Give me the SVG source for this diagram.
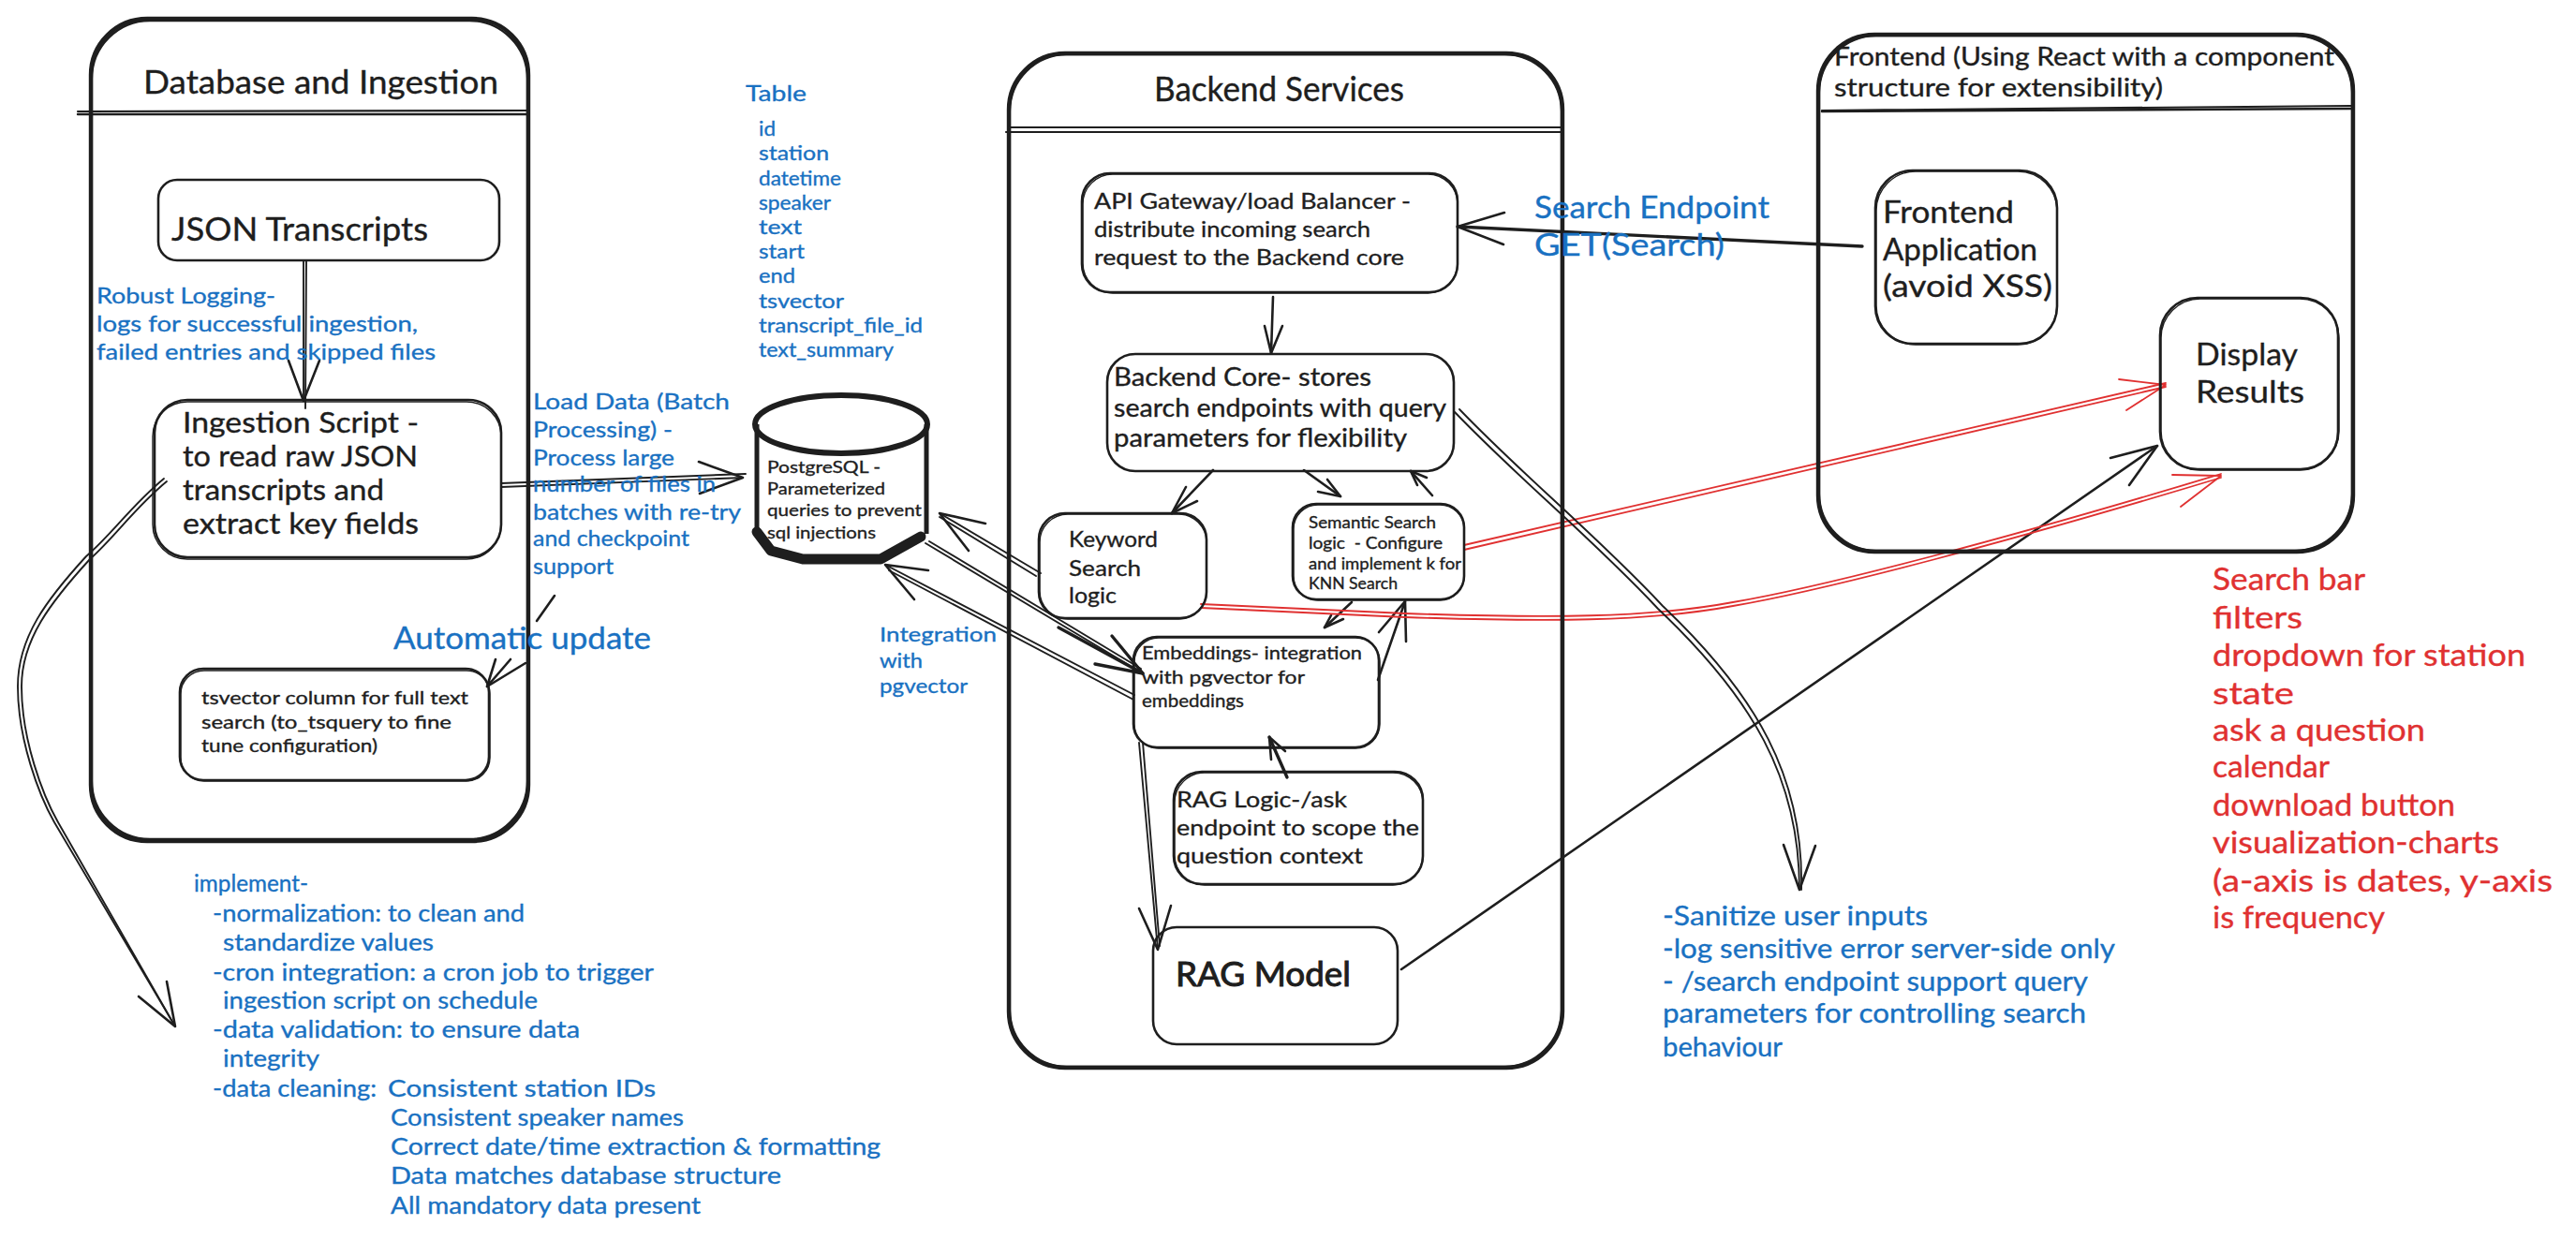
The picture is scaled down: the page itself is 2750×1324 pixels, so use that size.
<svg xmlns="http://www.w3.org/2000/svg" width="2750" height="1324" viewBox="0 0 2750 1324">
<style>
text{font-family:"Lato","Open Sans","Liberation Sans",sans-serif;fill:#1e1e1e;stroke:#1e1e1e;stroke-width:.35}
text.b{fill:#1971c2;stroke:#1971c2}
text.r{fill:#e03131;stroke:#e03131}
.box,.box2,.cont,.cont2,.hd{fill:none;stroke:#1e1e1e;stroke-linecap:round}
.box{stroke-width:2.6}.box2{stroke-width:1.4}.cont{stroke-width:4.4}.cont2{stroke-width:2.4}.hd{stroke-width:2.2}
.c,.c2,.cr,.ct{fill:none;stroke:#1e1e1e;stroke-linecap:round;stroke-linejoin:round}
.c{stroke-width:2.6}.c2{stroke-width:1.9}.ct{stroke-width:3.4}
.cr{stroke:#e03131;stroke-width:1.8}
</style>
<g id="connectors">
<path class="c2" d="M324 278L324 428"/><path class="c2" d="M327 278L326 436"/><path class="c" d="M308 385L324 428L341 385"/>
<path class="c2" d="M535 520L793 510"/><path class="c2" d="M535 516L796 506"/><path class="c" d="M746 493L793 510L747 527"/>
<path class="c" d="M592 636L573 663"/><path class="c" d="M561 708L520 733"/><path class="c" d="M529 704L520 733L545 704"/>
<path class="c2" d="M175 511C140 540 120 570 92 594C50 640 19 680 19 733C19 790 42 850 58 878L187 1096"/><path class="c2" d="M178 514C143 543 123 573 96 597C54 643 23 683 23 733C23 790 46 850 62 878L187 1096"/><path class="c" d="M178 1048L187 1096L148 1064"/>
<path class="c2" d="M1111 612L1003 548"/><path class="c2" d="M1106 615L1003 552"/><path class="c" d="M1052 559L1003 548L1034 588"/>
<path class="c2" d="M988 580L1220 719"/><path class="c2" d="M992 578L1218 714"/><path class="ct" d="M1187 679L1220 719L1169 709"/><path class="ct" d="M1130 670L1220 719"/>
<path class="c2" d="M1211 742L945 603"/><path class="c2" d="M1210 747L949 609"/><path class="c" d="M991 609L945 603L976 640"/>
<path class="ct" d="M1988 263L1556 242"/><path class="c" d="M1606 227L1556 242L1605 261"/>
<path class="c" d="M1359 317L1357 377"/><path class="c" d="M1350 348L1357 377L1369 348"/>
<path class="c" d="M1295 502L1251 548"/><path class="c" d="M1266 520L1251 548L1278 535"/>
<path class="c" d="M1392 502L1431 530"/><path class="c" d="M1417 512L1431 530L1407 525"/>
<path class="c" d="M1529 529L1506 503"/><path class="c" d="M1523 510L1506 503L1513 518"/>
<path class="c" d="M1443 643L1414 670"/><path class="c" d="M1434 661L1414 670L1421 657"/>
<path class="c" d="M1471 726L1500 642"/><path class="c" d="M1472 675L1500 642L1501 685"/>
<path class="ct" d="M1374 830L1355 787"/><path class="c" d="M1357 811L1355 787L1372 802"/>
<path class="c2" d="M1216 793L1236 1014"/><path class="c2" d="M1220 793L1238 1010"/><path class="c" d="M1216 970L1236 1014L1250 967"/>
<path class="c" d="M1496 1035L2303 476"/><path class="c" d="M2253 489L2303 476L2273 518"/>
<path class="cr" d="M1563 582L2312 409"/><path class="cr" d="M1563 587L2312 413"/><path class="cr" d="M2262 405L2312 411L2270 438"/>
<path class="cr" d="M1282 645L1500 655C1650 660 1760 660 1850 643C1950 626 2150 573 2371 506"/><path class="cr" d="M1282 649L1500 659C1650 664 1760 664 1850 647C1950 630 2150 577 2371 510"/><path class="cr" d="M2319 507L2371 508L2328 541"/>
<path class="c2" d="M1553 440C1620 510 1700 575 1770 650C1870 745 1921 830 1921 950"/><path class="c2" d="M1558 437C1625 507 1705 572 1775 647C1875 742 1926 830 1923 950"/><path class="c" d="M1904 902L1921 950L1938 903"/>
</g>
<g id="db">
<rect class="cont" x="97" y="20" width="467" height="878" rx="60"/><rect class="cont2" x="98" y="22" width="465" height="874" rx="62"/>
<path class="hd" d="M83 119L564 118"/><path class="cont2" d="M83 122L564 122"/>
<text lengthAdjust="spacingAndGlyphs" x="153" y="100" font-size="34" textLength="379">Database and Ingestion</text>
</g>
<g id="json"><rect class="box" x="169" y="192" width="364" height="86" rx="20"/>
<text lengthAdjust="spacingAndGlyphs" x="183" y="257" font-size="34" textLength="274">JSON Transcripts</text></g>
<g id="ingest"><rect class="box" x="165" y="427" width="370" height="168" rx="35"/><rect class="box2" x="163" y="429" width="372" height="168" rx="37"/>
<text lengthAdjust="spacingAndGlyphs" x="195" y="462" font-size="30" textLength="252">Ingestion Script -</text>
<text lengthAdjust="spacingAndGlyphs" x="195" y="498" font-size="30" textLength="251">to read raw JSON</text>
<text lengthAdjust="spacingAndGlyphs" x="195" y="534" font-size="30" textLength="215">transcripts and</text>
<text lengthAdjust="spacingAndGlyphs" x="195" y="570" font-size="30" textLength="252">extract key fields</text></g>
<g id="tsv"><rect class="box" x="192" y="714" width="330" height="119" rx="25"/><rect class="box2" x="193" y="716" width="330" height="118" rx="25"/>
<text lengthAdjust="spacingAndGlyphs" x="215" y="752" font-size="20" textLength="285">tsvector column for full text</text>
<text lengthAdjust="spacingAndGlyphs" x="215" y="778" font-size="20" textLength="267">search (to_tsquery to fine</text>
<text lengthAdjust="spacingAndGlyphs" x="215" y="803" font-size="20" textLength="188">tune configuration)</text></g>
<g id="postgres">
<ellipse cx="898" cy="453" rx="92" ry="31" fill="none" stroke="#1e1e1e" stroke-width="6"/>
<path d="M808 453L808 570M989 453L989 570" fill="none" stroke="#1e1e1e" stroke-width="5"/>
<path d="M808 568L823 588L857 597L940 597L983 573" fill="none" stroke="#1e1e1e" stroke-width="11" stroke-linejoin="round" stroke-linecap="round"/>
<text lengthAdjust="spacingAndGlyphs" x="819" y="505" font-size="18" textLength="121">PostgreSQL -</text>
<text lengthAdjust="spacingAndGlyphs" x="819" y="528" font-size="18" textLength="126">Parameterized</text>
<text lengthAdjust="spacingAndGlyphs" x="819" y="551" font-size="18" textLength="165">queries to prevent</text>
<text lengthAdjust="spacingAndGlyphs" x="819" y="575" font-size="18" textLength="116">sql injections</text></g>
<g id="backend">
<rect class="cont" x="1077" y="57" width="591" height="1083" rx="60"/><rect class="cont2" x="1078" y="58" width="589" height="1081" rx="61"/>
<path class="hd" d="M1078 136L1668 136"/><path class="hd" d="M1074 141L1668 141"/>
<text lengthAdjust="spacingAndGlyphs" x="1232" y="108" font-size="36" textLength="267">Backend Services</text></g>
<g id="api"><rect class="box" x="1155" y="185" width="401" height="127" rx="30"/><rect class="box2" x="1156" y="186" width="400" height="127" rx="32"/>
<text lengthAdjust="spacingAndGlyphs" x="1168" y="223" font-size="24" textLength="338">API Gateway/load Balancer -</text>
<text lengthAdjust="spacingAndGlyphs" x="1168" y="253" font-size="24" textLength="295">distribute incoming search</text>
<text lengthAdjust="spacingAndGlyphs" x="1168" y="283" font-size="24" textLength="331">request to the Backend core</text></g>
<g id="core"><rect class="box" x="1182" y="378" width="370" height="125" rx="30"/>
<text lengthAdjust="spacingAndGlyphs" x="1189" y="412" font-size="26" textLength="275">Backend Core- stores</text>
<text lengthAdjust="spacingAndGlyphs" x="1189" y="445" font-size="26" textLength="355">search endpoints with query</text>
<text lengthAdjust="spacingAndGlyphs" x="1189" y="477" font-size="26" textLength="313">parameters for flexibility</text></g>
<g id="keyword"><rect class="box" x="1109" y="548" width="179" height="112" rx="28"/><rect class="box2" x="1110" y="549" width="178" height="112" rx="30"/>
<text lengthAdjust="spacingAndGlyphs" x="1141" y="584" font-size="24" textLength="95">Keyword</text>
<text lengthAdjust="spacingAndGlyphs" x="1141" y="615" font-size="24" textLength="77">Search</text>
<text lengthAdjust="spacingAndGlyphs" x="1141" y="644" font-size="24" textLength="51">logic</text></g>
<g id="semantic"><rect class="box" x="1380" y="538" width="183" height="102" rx="25"/><rect class="box2" x="1381" y="539" width="182" height="102" rx="26"/>
<text lengthAdjust="spacingAndGlyphs" x="1397" y="564" font-size="17.5" textLength="136">Semantic Search</text>
<text lengthAdjust="spacingAndGlyphs" x="1397" y="586" font-size="17.5" textLength="143" xml:space="preserve">logic  - Configure</text>
<text lengthAdjust="spacingAndGlyphs" x="1397" y="608" font-size="17.5" textLength="163">and implement k for</text>
<text lengthAdjust="spacingAndGlyphs" x="1397" y="629" font-size="17.5" textLength="95">KNN Search</text></g>
<g id="embeddings"><rect class="box" x="1210" y="680" width="262" height="118" rx="25"/><rect class="box2" x="1211" y="681" width="262" height="118" rx="26"/>
<text lengthAdjust="spacingAndGlyphs" x="1219" y="704" font-size="20" textLength="235">Embeddings- integration</text>
<text lengthAdjust="spacingAndGlyphs" x="1219" y="730" font-size="20" textLength="174">with pgvector for</text>
<text lengthAdjust="spacingAndGlyphs" x="1219" y="755" font-size="20" textLength="109">embeddings</text></g>
<g id="raglogic"><rect class="box" x="1253" y="824" width="266" height="120" rx="30"/><rect class="box2" x="1254" y="825" width="265" height="120" rx="32"/>
<text lengthAdjust="spacingAndGlyphs" x="1256" y="862" font-size="24" textLength="182">RAG Logic-/ask</text>
<text lengthAdjust="spacingAndGlyphs" x="1256" y="892" font-size="24" textLength="259">endpoint to scope the</text>
<text lengthAdjust="spacingAndGlyphs" x="1256" y="922" font-size="24" textLength="199">question context</text></g>
<g id="ragmodel"><rect class="box" x="1231" y="990" width="261" height="125" rx="25"/>
<text lengthAdjust="spacingAndGlyphs" x="1255" y="1053" font-size="36" textLength="187" style="stroke-width:1">RAG Model</text></g>
<g id="frontend">
<rect class="cont" x="1941" y="37" width="571" height="552" rx="60"/><rect class="cont2" x="1942" y="38" width="569" height="550" rx="61"/>
<path class="hd" d="M1945 118L2510 113"/><path class="cont2" d="M1945 119L2510 116"/>
<text lengthAdjust="spacingAndGlyphs" x="1958" y="70" font-size="26" textLength="534">Frontend (Using React with a component</text>
<text lengthAdjust="spacingAndGlyphs" x="1958" y="103" font-size="26" textLength="351">structure for extensibility)</text></g>
<g id="frontapp"><rect class="box" x="2002" y="182" width="194" height="185" rx="40"/><rect class="box2" x="2003" y="183" width="193" height="185" rx="42"/>
<text lengthAdjust="spacingAndGlyphs" x="2010" y="238" font-size="32" textLength="140">Frontend</text>
<text lengthAdjust="spacingAndGlyphs" x="2010" y="278" font-size="32" textLength="165">Application</text>
<text lengthAdjust="spacingAndGlyphs" x="2010" y="317" font-size="32" textLength="181">(avoid XSS)</text></g>
<g id="display"><rect class="box" x="2306" y="318" width="190" height="183" rx="40"/><rect class="box2" x="2307" y="319" width="190" height="183" rx="42"/>
<text lengthAdjust="spacingAndGlyphs" x="2344" y="390" font-size="32" textLength="109">Display</text>
<text lengthAdjust="spacingAndGlyphs" x="2344" y="430" font-size="32" textLength="116">Results</text></g>
<g id="label-logging"><text lengthAdjust="spacingAndGlyphs" class="b" x="103" y="324" font-size="24" textLength="191">Robust Logging-</text>
<text lengthAdjust="spacingAndGlyphs" class="b" x="103" y="354" font-size="24" textLength="343">logs for successful ingestion,</text>
<text lengthAdjust="spacingAndGlyphs" class="b" x="103" y="384" font-size="24" textLength="362">failed entries and skipped files</text></g>
<g id="label-load"><text lengthAdjust="spacingAndGlyphs" class="b" x="569" y="437" font-size="24" textLength="210">Load Data (Batch</text>
<text lengthAdjust="spacingAndGlyphs" class="b" x="569" y="467" font-size="24" textLength="149">Processing) -</text>
<text lengthAdjust="spacingAndGlyphs" class="b" x="569" y="497" font-size="24" textLength="151">Process large</text>
<text lengthAdjust="spacingAndGlyphs" class="b" x="569" y="525" font-size="24" textLength="195">number of files in</text>
<text lengthAdjust="spacingAndGlyphs" class="b" x="569" y="555" font-size="24" textLength="222">batches with re-try</text>
<text lengthAdjust="spacingAndGlyphs" class="b" x="569" y="583" font-size="24" textLength="167">and checkpoint</text>
<text lengthAdjust="spacingAndGlyphs" class="b" x="569" y="613" font-size="24" textLength="86">support</text></g>
<g id="label-auto"><text lengthAdjust="spacingAndGlyphs" class="b" x="420" y="693" font-size="32" textLength="275">Automatic update</text></g>
<g id="label-table"><text lengthAdjust="spacingAndGlyphs" class="b" x="796" y="108" font-size="24" textLength="65">Table</text>
<text lengthAdjust="spacingAndGlyphs" class="b" x="810" y="145" font-size="21" textLength="18">id</text>
<text lengthAdjust="spacingAndGlyphs" class="b" x="810" y="171" font-size="21" textLength="75">station</text>
<text lengthAdjust="spacingAndGlyphs" class="b" x="810" y="198" font-size="21" textLength="88">datetime</text>
<text lengthAdjust="spacingAndGlyphs" class="b" x="810" y="224" font-size="21" textLength="77">speaker</text>
<text lengthAdjust="spacingAndGlyphs" class="b" x="810" y="250" font-size="21" textLength="46">text</text>
<text lengthAdjust="spacingAndGlyphs" class="b" x="810" y="276" font-size="21" textLength="49">start</text>
<text lengthAdjust="spacingAndGlyphs" class="b" x="810" y="302" font-size="21" textLength="39">end</text>
<text lengthAdjust="spacingAndGlyphs" class="b" x="810" y="329" font-size="21" textLength="91">tsvector</text>
<text lengthAdjust="spacingAndGlyphs" class="b" x="810" y="355" font-size="21" textLength="175">transcript_file_id</text>
<text lengthAdjust="spacingAndGlyphs" class="b" x="810" y="381" font-size="21" textLength="144">text_summary</text></g>
<g id="label-integration"><text lengthAdjust="spacingAndGlyphs" class="b" x="939" y="685" font-size="22" textLength="125">Integration</text>
<text lengthAdjust="spacingAndGlyphs" class="b" x="939" y="713" font-size="22" textLength="46">with</text>
<text lengthAdjust="spacingAndGlyphs" class="b" x="939" y="740" font-size="22" textLength="94">pgvector</text></g>
<g id="label-search"><text lengthAdjust="spacingAndGlyphs" class="b" x="1638" y="233" font-size="32" textLength="251">Search Endpoint</text>
<text lengthAdjust="spacingAndGlyphs" class="b" x="1638" y="273" font-size="32" textLength="203">GET(Search)</text></g>
<g id="label-implement"><text lengthAdjust="spacingAndGlyphs" class="b" x="207" y="952" font-size="25" textLength="122">implement-</text>
<text lengthAdjust="spacingAndGlyphs" class="b" x="227" y="984" font-size="25" textLength="333">-normalization: to clean and</text>
<text lengthAdjust="spacingAndGlyphs" class="b" x="238" y="1015" font-size="25" textLength="225">standardize values</text>
<text lengthAdjust="spacingAndGlyphs" class="b" x="227" y="1047" font-size="25" textLength="471">-cron integration: a cron job to trigger</text>
<text lengthAdjust="spacingAndGlyphs" class="b" x="238" y="1077" font-size="25" textLength="336">ingestion script on schedule</text>
<text lengthAdjust="spacingAndGlyphs" class="b" x="227" y="1108" font-size="25" textLength="392">-data validation: to ensure data</text>
<text lengthAdjust="spacingAndGlyphs" class="b" x="238" y="1139" font-size="25" textLength="103">integrity</text>
<text lengthAdjust="spacingAndGlyphs" class="b" x="227" y="1171" font-size="25" textLength="175">-data cleaning:</text>
<text lengthAdjust="spacingAndGlyphs" class="b" x="414" y="1171" font-size="25" textLength="286">Consistent station IDs</text>
<text lengthAdjust="spacingAndGlyphs" class="b" x="417" y="1202" font-size="25" textLength="313">Consistent speaker names</text>
<text lengthAdjust="spacingAndGlyphs" class="b" x="417" y="1233" font-size="25" textLength="523">Correct date/time extraction &amp; formatting</text>
<text lengthAdjust="spacingAndGlyphs" class="b" x="417" y="1264" font-size="25" textLength="417">Data matches database structure</text>
<text lengthAdjust="spacingAndGlyphs" class="b" x="417" y="1296" font-size="25" textLength="331">All mandatory data present</text></g>
<g id="label-sanitize"><text lengthAdjust="spacingAndGlyphs" class="b" x="1775" y="988" font-size="28" textLength="283">-Sanitize user inputs</text>
<text lengthAdjust="spacingAndGlyphs" class="b" x="1775" y="1023" font-size="28" textLength="483">-log sensitive error server-side only</text>
<text lengthAdjust="spacingAndGlyphs" class="b" x="1775" y="1058" font-size="28" textLength="454">- /search endpoint support query</text>
<text lengthAdjust="spacingAndGlyphs" class="b" x="1775" y="1092" font-size="28" textLength="452">parameters for controlling search</text>
<text lengthAdjust="spacingAndGlyphs" class="b" x="1775" y="1128" font-size="28" textLength="128">behaviour</text></g>
<g id="label-ui"><text lengthAdjust="spacingAndGlyphs" class="r" x="2362" y="630" font-size="32" textLength="163">Search bar</text>
<text lengthAdjust="spacingAndGlyphs" class="r" x="2362" y="671" font-size="32" textLength="96">filters</text>
<text lengthAdjust="spacingAndGlyphs" class="r" x="2362" y="711" font-size="32" textLength="334">dropdown for station</text>
<text lengthAdjust="spacingAndGlyphs" class="r" x="2362" y="752" font-size="32" textLength="87">state</text>
<text lengthAdjust="spacingAndGlyphs" class="r" x="2362" y="791" font-size="32" textLength="227">ask a question</text>
<text lengthAdjust="spacingAndGlyphs" class="r" x="2362" y="830" font-size="32" textLength="125">calendar</text>
<text lengthAdjust="spacingAndGlyphs" class="r" x="2362" y="871" font-size="32" textLength="259">download button</text>
<text lengthAdjust="spacingAndGlyphs" class="r" x="2362" y="911" font-size="32" textLength="306">visualization-charts</text>
<text lengthAdjust="spacingAndGlyphs" class="r" x="2362" y="952" font-size="32" textLength="363">(a-axis is dates, y-axis</text>
<text lengthAdjust="spacingAndGlyphs" class="r" x="2362" y="991" font-size="32" textLength="184">is frequency</text></g>
</svg>
